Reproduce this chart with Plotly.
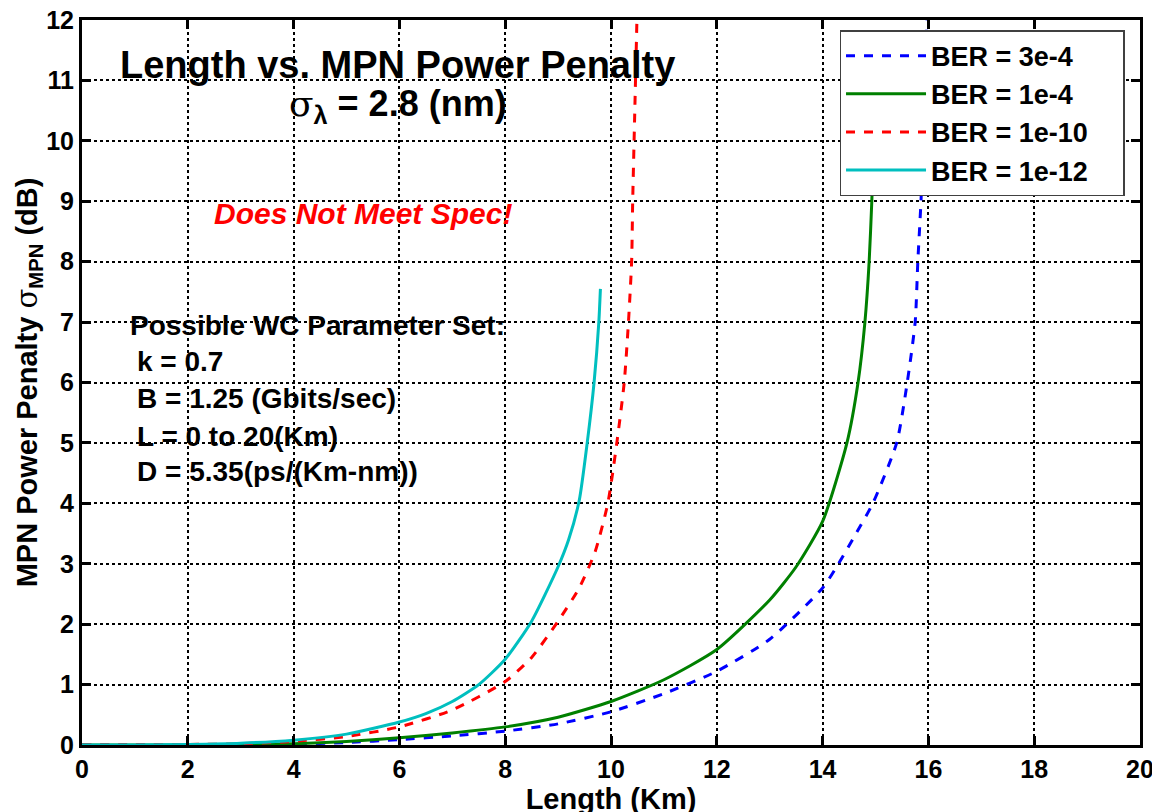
import plotly.graph_objects as go

# BER = 3e-4
x_3e4 = [0, 2, 3, 4, 5, 6, 7, 8, 9, 10, 11, 12, 13, 14, 14.3, 14.6, 14.95, 15.4, 15.6, 15.75, 15.8, 15.86, 15.9, 15.97]
y_3e4 = [0, 0, 0.003, 0.015, 0.04, 0.09, 0.15, 0.23, 0.35, 0.55, 0.85, 1.22, 1.75, 2.6, 3.0, 3.45, 4.0, 5.0, 6.0, 7.0, 8.0, 9.0, 10.0, 12.0]

# BER = 1e-4
x_1e4 = [0, 2, 3, 4, 5, 6, 7, 8, 9, 10, 11, 12, 13, 13.5, 14, 14.46, 14.67, 14.8, 14.88, 14.93, 14.97, 14.99]
y_1e4 = [0, 0, 0.005, 0.02, 0.06, 0.12, 0.2, 0.3, 0.46, 0.72, 1.08, 1.58, 2.4, 2.95, 3.7, 5.0, 6.0, 7.0, 8.0, 9.0, 10.0, 11.4]

# BER = 1e-10
x_1e10 = [0, 1, 2, 3, 4, 5, 6, 7, 8, 8.5, 9, 9.4, 9.7, 9.94, 10.11, 10.25, 10.33, 10.39, 10.41, 10.45, 10.49]
y_1e10 = [0, 0, 0.01, 0.02, 0.06, 0.14, 0.3, 0.58, 1.05, 1.45, 2.05, 2.6, 3.2, 4.0, 5.0, 6.0, 7.0, 8.0, 9.0, 10.5, 12.0]

# BER = 1e-12
x_1e12 = [0, 1, 2, 3, 4, 5, 6, 6.5, 7, 7.5, 8, 8.5, 9, 9.2, 9.4, 9.55, 9.68, 9.77, 9.8]
y_1e12 = [0, 0, 0.01, 0.03, 0.08, 0.18, 0.38, 0.52, 0.72, 1.0, 1.42, 2.05, 2.95, 3.4, 4.05, 5.0, 6.0, 7.0, 7.55]

series = [
    ("BER = 3e-4", x_3e4, y_3e4, "#0000ff", "dash"),
    ("BER = 1e-4", x_1e4, y_1e4, "#008000", "solid"),
    ("BER = 1e-10", x_1e10, y_1e10, "#ff0000", "dash"),
    ("BER = 1e-12", x_1e12, y_1e12, "#00bfbf", "solid"),
]

param_lines = [
    "Possible WC Parameter Set:",
    "k = 0.7",
    "B = 1.25 (Gbits/sec)",
    "L = 0 to 20(Km)",
    "D = 5.35(ps/(Km-nm))",
]
param_x = [0.87, 1.0, 1.0, 1.0, 1.0]
param_y = [6.95, 6.35, 5.73, 5.1, 4.53]

FONT = "Liberation Sans, Arial, sans-serif"
SIGMA = "<span style='font-weight:normal;font-family:DejaVu Serif'>σ</span>"
PAD = "\u00a0\u00a0\u00a0\u00a0"

fig = go.Figure()

for name, xs, ys, color, dash in series:
    fig.add_trace(
        go.Scatter(
            name=name + PAD,
            x=xs,
            y=ys,
            mode="lines",
            line=dict(color=color, width=3, dash=dash, shape="spline", smoothing=0.6),
        )
    )

# Title text inside the plot
fig.add_annotation(
    x=5.97, y=11.26, text="Length vs. MPN Power Penalty", showarrow=False,
    font=dict(family=FONT, size=38, color="black", weight="bold"),
)
fig.add_annotation(
    x=5.97, y=10.57,
    text=SIGMA + "<sub>λ</sub> = 2.8 (nm)",
    showarrow=False,
    font=dict(family=FONT, size=36, color="black", weight="bold"),
)
fig.add_annotation(
    x=2.46, y=8.8, text="<i>Does Not Meet Spec!</i>", showarrow=False, xanchor="left",
    font=dict(family=FONT, size=30, color="#ff0000", weight="bold"),
)
for txt, px, py in zip(param_lines, param_x, param_y):
    fig.add_annotation(
        x=px, y=py, text=txt, showarrow=False, xanchor="left",
        font=dict(family=FONT, size=28, color="black", weight="bold"),
    )

axis_common = dict(
    showline=True,
    linecolor="black",
    linewidth=3,
    mirror="ticks",
    ticks="inside",
    ticklen=9,
    tickwidth=3,
    tickcolor="black",
    showgrid=True,
    gridcolor="black",
    griddash="dot",
    gridwidth=1.5,
    zeroline=False,
    automargin=False,
    ticklabeloverflow="allow",
    tickfont=dict(family=FONT, size=25, color="black", weight="bold"),
)

fig.update_layout(
    width=1160,
    height=812,
    plot_bgcolor="white",
    paper_bgcolor="white",
    margin=dict(l=74, r=28, t=12, b=75),
    font=dict(family=FONT, color="black"),
    xaxis=dict(
        range=[0, 20],
        dtick=2,
        title=dict(text="Length (Km)", standoff=0,
                   font=dict(family=FONT, size=29, color="black", weight="bold")),
        **axis_common,
    ),
    yaxis=dict(
        range=[0, 12],
        tickvals=list(range(0, 13)),
        title=dict(
            text="MPN Power Penalty " + SIGMA + "<sub>MPN</sub> (dB)",
            standoff=1,
            font=dict(family=FONT, size=29, color="black", weight="bold"),
        ),
        **axis_common,
    ),
    legend=dict(
        x=0.716,
        y=0.986,
        xanchor="left",
        yanchor="top",
        bgcolor="white",
        bordercolor="#404040",
        borderwidth=1.5,
        itemwidth=80,
        font=dict(family=FONT, size=27, color="black", weight="bold"),
        tracegroupgap=0,
    ),
)

fig.write_html("out.html")
